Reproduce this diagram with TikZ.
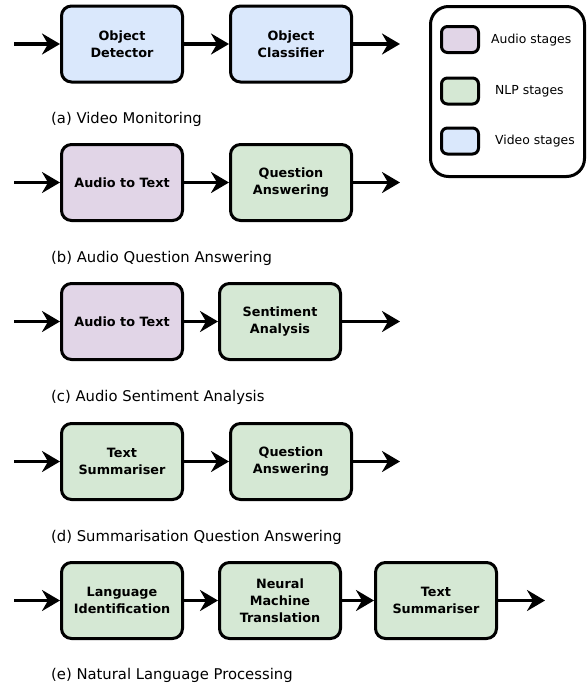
\documentclass[tikz,border=0pt]{standalone}
\usepackage{fontspec}
\setmainfont{DejaVu Sans}
\usetikzlibrary{arrows.meta}
\definecolor{audiofill}{HTML}{E1D5E7}
\definecolor{nlpfill}{HTML}{D5E8D4}
\definecolor{videofill}{HTML}{DAE8FC}

\begin{document}
\begin{tikzpicture}[x=1pt,y=-1pt,
	stage/.style={draw=black,line width=3pt,rounded corners=10pt,minimum width=121pt,minimum height=76pt,inner sep=0pt,align=center,font=\fontsize{12.8}{17}\selectfont\bfseries},
	audio/.style={stage,fill=audiofill},
	nlp/.style={stage,fill=nlpfill},
	video/.style={stage,fill=videofill},
	flow/.style={line width=3.2pt,-{Stealth[length=18pt,width=21pt,inset=6pt]}},
	caption/.style={anchor=west,inner sep=0pt,font=\fontsize{14.8}{18}\selectfont},
	swatch/.style={draw=black,line width=3pt,rounded corners=6pt,minimum width=37pt,minimum height=26pt,inner sep=0pt},
	key/.style={anchor=west,inner sep=0pt,font=\fontsize{12.4}{15}\selectfont}]

	\useasboundingbox (0,0) rectangle (587,683);

	\coordinate (ain) at (14,44);
	\node[video] (adet) at (122,44) {Object\\Detector};
	\node[video] (acls) at (291,44) {Object\\Classifier};
	\coordinate (aout) at (400,44);
	\draw[flow] (ain) -- (adet);
	\draw[flow] (adet) -- (acls);
	\draw[flow] (acls) -- (aout);
	\node[caption] (acap) at (51,119) {(a) Video Monitoring};

	\coordinate (bin) at (14,182.5);
	\node[audio] (bstt) at (122,182.5) {Audio to Text};
	\node[nlp] (bqa) at (291,182.5) {Question\\Answering};
	\coordinate (bout) at (400,182.5);
	\draw[flow] (bin) -- (bstt);
	\draw[flow] (bstt) -- (bqa);
	\draw[flow] (bqa) -- (bout);
	\node[caption] (bcap) at (51,258) {(b) Audio Question Answering};

	\coordinate (cin) at (14,321.5);
	\node[audio] (cstt) at (122,321.5) {Audio to Text};
	\node[nlp] (csa) at (280,321.5) {Sentiment\\Analysis};
	\coordinate (cout) at (400,321.5);
	\draw[flow] (cin) -- (cstt);
	\draw[flow] (cstt) -- (csa);
	\draw[flow] (csa) -- (cout);
	\node[caption] (ccap) at (51,397) {(c) Audio Sentiment Analysis};

	\coordinate (din) at (14,461.5);
	\node[nlp] (dsum) at (122,461.5) {Text\\Summariser};
	\node[nlp] (dqa) at (291,461.5) {Question\\Answering};
	\coordinate (dout) at (400,461.5);
	\draw[flow] (din) -- (dsum);
	\draw[flow] (dsum) -- (dqa);
	\draw[flow] (dqa) -- (dout);
	\node[caption] (dcap) at (51,537) {(d) Summarisation Question Answering};

	\coordinate (ein) at (14,600.5);
	\node[nlp] (elid) at (122,600.5) {Language\\Identification};
	\node[nlp] (enmt) at (280,600.5) {Neural\\Machine\\Translation};
	\node[nlp] (esum) at (436,600.5) {Text\\Summariser};
	\coordinate (eout) at (545,600.5);
	\draw[flow] (ein) -- (elid);
	\draw[flow] (elid) -- (enmt);
	\draw[flow] (enmt) -- (esum);
	\draw[flow] (esum) -- (eout);
	\node[caption] (ecap) at (51,675) {(e) Natural Language Processing};

	\draw[line width=3pt,rounded corners=18pt] (430.5,6.5) rectangle (584.5,176.5);
	\node[swatch,fill=audiofill] (kaudio) at (460,39.5) {};
	\node[key] (kaudiotxt) at (491,40) {Audio stages};
	\node[swatch,fill=nlpfill] (knlp) at (460,91) {};
	\node[key] (knlptxt) at (495,91) {NLP stages};
	\node[swatch,fill=videofill] (kvideo) at (460,141) {};
	\node[key] (kvideotxt) at (495,141) {Video stages};

\end{tikzpicture}
\end{document}
